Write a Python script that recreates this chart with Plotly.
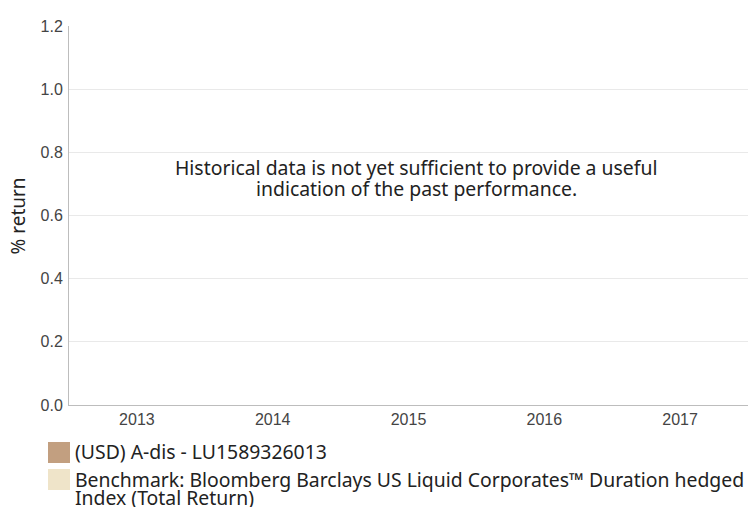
import plotly.graph_objects as go

years = ["2013", "2014", "2015", "2016", "2017"]
fund_name = "(USD) A-dis - LU1589326013"
bench_name_lines = ["Benchmark: Bloomberg Barclays US Liquid Corporates\u2122 Duration hedged",
                    "Index (Total Return)"]
fund_values = [None, None, None, None, None]
bench_values = [None, None, None, None, None]
y_ticks = [0.0, 0.2, 0.4, 0.6, 0.8, 1.0, 1.2]
message_lines = ["Historical data is not yet sufficient to provide a useful",
                 "indication of the past performance."]
y_title = "% return"

fund_color = "#c29f80"
bench_color = "#efe4c9"
ui_font = "Noto Sans"

# plot area in pixels
L, R, T, B = 69, 748, 26, 405
W, H = R - L, B - T


def px_x(x):
    return (x - L) / W


def px_y(y):
    return (B - y) / H


fig = go.Figure()
fig.add_trace(go.Bar(x=years, y=fund_values, name=fund_name, marker_color=fund_color, showlegend=False))
fig.add_trace(go.Bar(x=years, y=bench_values, name=" ".join(bench_name_lines), marker_color=bench_color, showlegend=False))

fig.update_layout(
    width=748, height=507,
    margin=dict(l=L, r=748 - R, t=T, b=507 - B, autoexpand=False),
    paper_bgcolor="white", plot_bgcolor="white",
    xaxis=dict(type="category", categoryorder="array", categoryarray=years,
               range=[-0.5, 4.5], showline=True, linecolor="#bdbdbd", linewidth=1,
               showgrid=False, ticks="", zeroline=False, automargin=False,
               tickfont=dict(family="Liberation Sans, Arial", size=16, color="#444")),
    yaxis=dict(range=[0, 1.2], tickvals=y_ticks, ticktext=[f"{v:.1f}" for v in y_ticks],
               showline=True, linecolor="#bdbdbd", linewidth=1, automargin=False,
               showgrid=True, gridcolor="#e9e9e9", zeroline=False, ticks="",
               ticklabelstandoff=2,
               tickfont=dict(family="Liberation Sans, Arial", size=16, color="#444")),
    showlegend=False,
)

# y axis title
fig.add_annotation(text=y_title, xref="paper", yref="paper", x=px_x(17), y=px_y(215.5),
                   textangle=-90, showarrow=False, xanchor="center", yanchor="middle",
                   font=dict(family=ui_font, size=19, color="#222"))

# message
for line, ypx in zip(message_lines, [168, 189]):
    fig.add_annotation(text=line, xref="paper", yref="paper", x=px_x(416), y=px_y(ypx),
                       showarrow=False, xanchor="center", yanchor="middle",
                       font=dict(family=ui_font, size=19.4, color="#222"))

# manual legend
legend_squares = [(fund_color, 442, 463), (bench_color, 469, 490)]
for color, y0, y1 in legend_squares:
    fig.add_shape(type="rect", xref="paper", yref="paper",
                  x0=px_x(48), x1=px_x(70), y0=px_y(y1), y1=px_y(y0),
                  fillcolor=color, line_width=0)

legend_texts = [(fund_name, 451), (bench_name_lines[0], 479), (bench_name_lines[1], 497)]
for text, ypx in legend_texts:
    fig.add_annotation(text=text, xref="paper", yref="paper",
                       x=px_x(73), y=px_y(ypx), xanchor="left", yanchor="middle",
                       showarrow=False, align="left",
                       font=dict(family=ui_font, size=19.4, color="#222"))

fig.write_html("out.html", config={"displayModeBar": False},
               post_script="document.body.style.margin='0';document.body.style.overflow='hidden';")
